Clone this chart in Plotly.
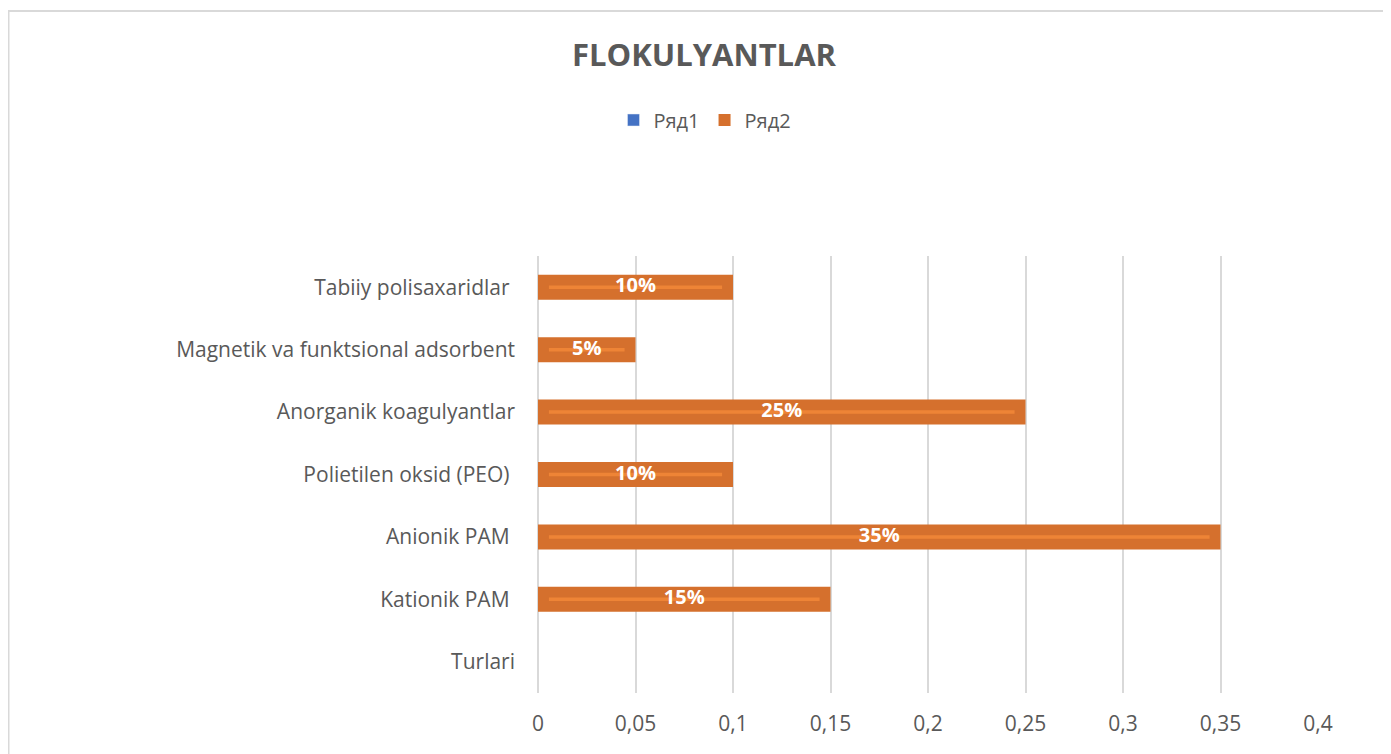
import plotly.graph_objects as go

categories = ["Turlari", "Kationik PAM", "Anionik PAM", "Polietilen oksid (PEO)",
              "Anorganik koagulyantlar", "Magnetik va funktsional adsorbent", "Tabiiy polisaxaridlar"]
category_text = ["Turlari", "Kationik PAM\u00a0", "Anionik PAM\u00a0", "Polietilen oksid (PEO)\u00a0",
                 "Anorganik koagulyantlar", "Magnetik va funktsional adsorbent", "Tabiiy polisaxaridlar\u00a0"]
ryad1 = [None, None, None, None, None, None, None]
ryad2 = [None, 0.15, 0.35, 0.10, 0.25, 0.05, 0.10]
labels = ["", "15%", "35%", "10%", "25%", "5%", "10%"]
x_ticks = [0, 0.05, 0.1, 0.15, 0.2, 0.25, 0.3, 0.35, 0.4]

FONT = "Open Sans"
GRAY = "#595959"
BAR = "#D5702D"
GLOW = "#EE8436"

W, H = 1391, 754
OFF = 8  # page body margin
L, R, T, B = 538 - OFF, 1318 - OFF, 256 - OFF, 693 - OFF

fig = go.Figure()
fig.add_trace(go.Bar(name="Ряд1", y=categories, x=ryad1, orientation="h",
                     marker_color="#4472C4", width=0.4))
fig.add_trace(go.Bar(name="Ряд2", y=categories, x=ryad2, orientation="h",
                     marker=dict(color=BAR, line=dict(width=0)), width=0.4))

pad = 0.0056
for c, v in zip(categories, ryad2):
    if v:
        fig.add_trace(go.Scatter(x=[pad, v - pad], y=[c, c], mode="lines",
                                 line=dict(color=GLOW, width=3.5), showlegend=False,
                                 hoverinfo="skip"))

fig.add_trace(go.Scatter(x=[(v or 0) / 2 for v in ryad2], y=categories, mode="text",
                         text=labels, textposition="middle center",
                         textfont=dict(family=FONT, size=20, color="white", weight="bold"),
                         showlegend=False, hoverinfo="skip"))

pw, ph = R - L, B - T
fig.add_shape(type="rect", xref="paper", yref="paper",
              x0=(0.5 - L) / pw, x1=(W + 5 - L) / pw,
              y0=-(H + 5 - B) / ph, y1=1 + (T - 3) / ph,
              line=dict(color="#d9d9d9", width=2), layer="below")

fig.update_layout(
    width=W, height=H,
    margin=dict(l=L, r=W - R, t=T, b=H - B),
    paper_bgcolor="white", plot_bgcolor="white",
    barmode="overlay",
    separators=", ",
    font=dict(family=FONT, color=GRAY, size=21),
    title=dict(text="<b>FLOKULYANTLAR</b>", x=(704 - OFF) / W, xanchor="center",
               y=1 - (55 - OFF) / H, yanchor="middle",
               font=dict(family=FONT, size=31, color=GRAY)),
    legend=dict(orientation="h", x=(705 - 538) / pw, xanchor="center",
                y=1 + (256 - 120) / ph, yanchor="middle",
                font=dict(family=FONT, size=20, color=GRAY),
                itemwidth=30, tracegroupgap=0),
    xaxis=dict(range=[0, 0.4], tickvals=x_ticks, showgrid=True,
               gridcolor="#d9d9d9", gridwidth=1.5, zeroline=True,
               zerolinecolor="#d9d9d9", zerolinewidth=1.5, showline=False,
               ticklabelstandoff=16, tickfont=dict(size=21, color=GRAY)),
    yaxis=dict(categoryorder="array", categoryarray=categories,
               tickvals=categories, ticktext=category_text, showgrid=False,
               showline=False, ticklabelstandoff=22,
               tickfont=dict(size=21, color=GRAY)),
)

fig.write_html("out.html")
